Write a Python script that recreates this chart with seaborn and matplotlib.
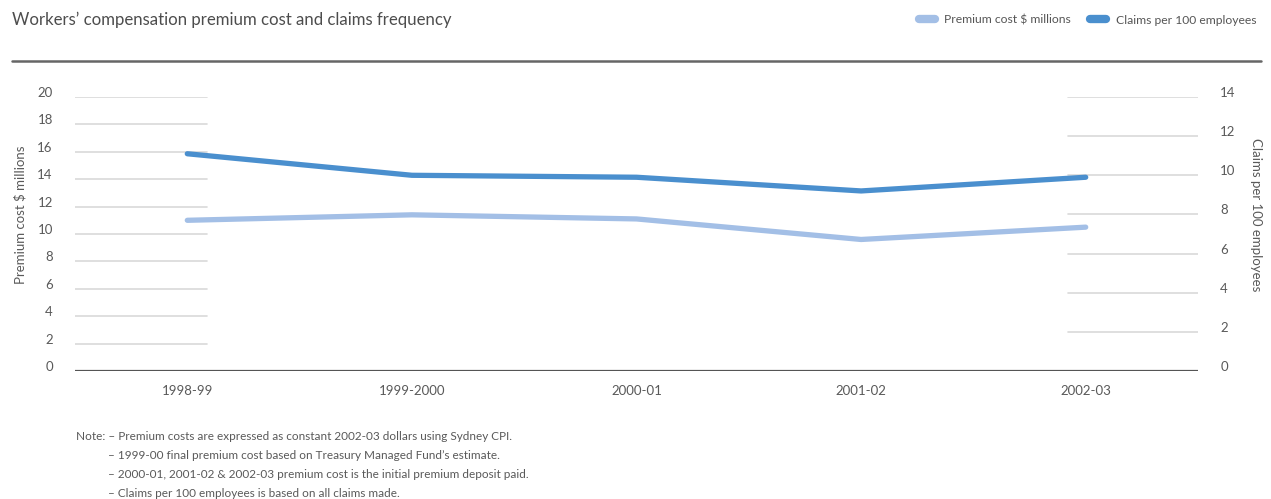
import matplotlib
matplotlib.use("Agg")
import matplotlib.pyplot as plt
import seaborn as sns
import pandas as pd
from matplotlib.lines import Line2D

sns.set_theme(style="white")
plt.rcParams["font.family"] = ["Lato", "DejaVu Sans"]

years = ["1998-99", "1999-2000", "2000-01", "2001-02", "2002-03"]
premium_cost = [11.0, 11.4, 11.1, 9.6, 10.5]
claims_per_100 = [11.1, 10.0, 9.9, 9.2, 9.9]

left_ticks = list(range(0, 21, 2))
right_ticks = list(range(0, 15, 2))

notes = [
    "Note: \u2013 Premium costs are expressed as constant 2002-03 dollars using Sydney CPI.",
    "\u2013 1999-00 final premium cost based on Treasury Managed Fund\u2019s estimate.",
    "\u2013 2000-01, 2001-02 & 2002-03 premium cost is the initial premium deposit paid.",
    "\u2013 Claims per 100 employees is based on all claims made.",
]

light_blue = "#a3bfe6"
dark_blue = "#4a8fce"
text_grey = "#595959"
grid_grey = "#d9d9d9"

df = pd.DataFrame({"year": years, "premium": premium_cost, "claims": claims_per_100})
df["pos"] = range(len(years))

fig = plt.figure(figsize=(12.71, 4.99), dpi=100)
ax = fig.add_axes([75 / 1271, 1 - 371 / 499, 1123 / 1271, 274 / 499])
ax2 = ax.twinx()

for a in (ax, ax2):
    for s in a.spines.values():
        s.set_visible(False)
    a.set_facecolor("none")

# partial gridlines at the two ends of the plot
for t in left_ticks[1:]:
    ax.axhline(t, xmin=0, xmax=132 / 1123, color=grid_grey, lw=1.2, zorder=0)
for t in right_ticks[1:]:
    ax2.axhline(t, xmin=993 / 1123, xmax=1, color=grid_grey, lw=1.2, zorder=0)
ax.axhline(0, color="#555555", lw=1.6, zorder=1)

sns.lineplot(data=df, x="pos", y="premium", ax=ax, color=light_blue, lw=3.8,
             solid_capstyle="round", zorder=3)
sns.lineplot(data=df, x="pos", y="claims", ax=ax2, color=dark_blue, lw=3.8,
             solid_capstyle="round", zorder=3)

ax.set_xlim(-0.5, 4.5)
ax.set_ylim(0, 20)
ax2.set_ylim(0, 14)
ax.set_yticks(left_ticks)
ax2.set_yticks(right_ticks)
ax.set_xticks(range(len(years)))
ax.set_xticklabels(years)

ax.tick_params(axis="y", length=0, pad=16, labelsize=9.5, labelcolor=text_grey)
ax2.tick_params(axis="y", length=0, pad=16, labelsize=9.5, labelcolor=text_grey)
ax.tick_params(axis="x", length=0, pad=10, labelsize=9.5, labelcolor=text_grey)
for lbl in ax.get_yticklabels() + ax2.get_yticklabels():
    lbl.set_va("baseline")

ax.set_xlabel("")
ax.set_ylabel("Premium cost $ millions", fontsize=9.5, color=text_grey)
ax2.set_ylabel("Claims per 100 employees", fontsize=9.5, color=text_grey, rotation=270)
ax.yaxis.set_label_coords(-48 / 1123, 0.57)
ax2.yaxis.set_label_coords(1 + 64 / 1123, 0.57)

# title and rule
fig.text(12 / 1271, 1 - 20 / 499, "Workers\u2019 compensation premium cost and claims frequency",
         fontsize=12.1, color="#4d4d4d", va="center", ha="left")
fig.add_artist(Line2D([12 / 1271, 1261 / 1271], [1 - 61 / 499, 1 - 61 / 499],
                      color="#666666", lw=1.8))

# legend
handles = [
    Line2D([0], [0], color=light_blue, lw=6, solid_capstyle="round"),
    Line2D([0], [0], color=dark_blue, lw=6, solid_capstyle="round"),
]
fig.legend(handles, ["Premium cost $ millions", "Claims per 100 employees"],
           loc="center right", bbox_to_anchor=(1267 / 1271, 1 - 20 / 499),
           ncol=2, frameon=False, fontsize=8.7, handlelength=1.3,
           columnspacing=1.6, handletextpad=0.8, labelcolor="#555555")

# notes
fig.text(76 / 1271, 1 - 437 / 499, notes[0], fontsize=8.5, color=text_grey, va="center")
for i, line in enumerate(notes[1:], start=1):
    fig.text(108 / 1271, 1 - (437 + 18.7 * i) / 499, line, fontsize=8.5,
             color=text_grey, va="center")

fig.savefig("out.png", dpi=100)
